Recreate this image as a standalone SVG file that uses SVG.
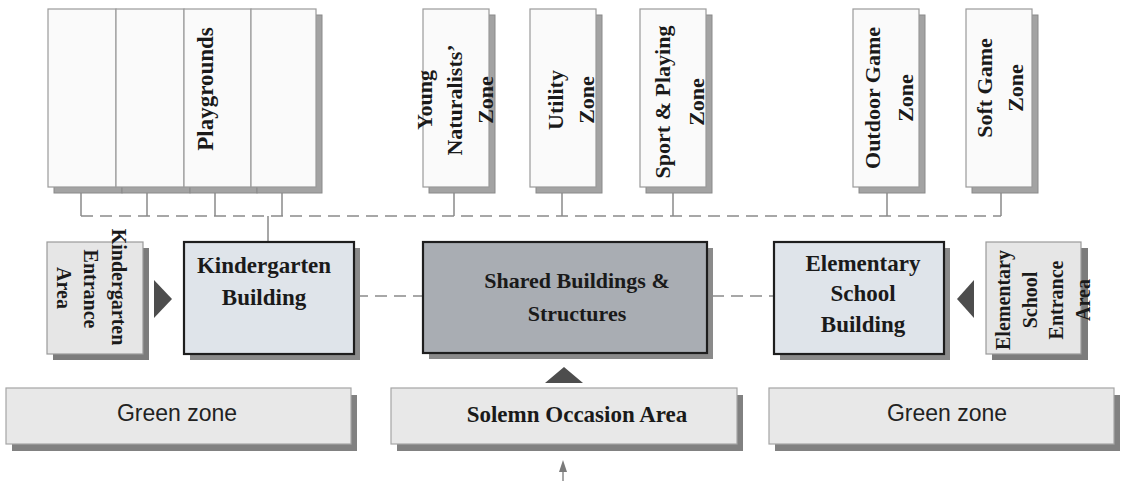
<svg xmlns="http://www.w3.org/2000/svg" width="1121" height="481" viewBox="0 0 1121 481">
<style>
.bg{fill:#ffffff}
.zone{fill:#fafafa;stroke:#9a9a9a;stroke-width:1.2}
.zsh{fill:#a3a3a3;stroke:#8a8a8a;stroke-width:1}
.ent{fill:#e6e6e6;stroke:#9a9a9a;stroke-width:1.2}
.esh{fill:#7c7c7c}
.bld{fill:#dfe4ea;stroke:#1e1e1e;stroke-width:2.2}
.shared{fill:#a9adb3;stroke:#1e1e1e;stroke-width:2.2}
.bsh{fill:#8a8a8a}
.low{fill:#e8e8e8;stroke:#a5a5a5;stroke-width:1.2}
.lsh{fill:#818181}
.tri{fill:#4d4d4d}
.ser{font-family:"Liberation Serif","Times New Roman",serif;font-weight:bold;fill:#1a1a1a}
.sans{font-family:"Liberation Sans",Arial,sans-serif;fill:#222;font-size:23px}
.f22{font-size:22px}
.f23{font-size:23px}
.f20{font-size:20px}
.conn line,.conn path{stroke:#8a8a8a;stroke-width:1.5;fill:none}
.dash{stroke-dasharray:12 7}
</style>
<rect class="bg" x="0" y="0" width="1121" height="481"/>

<g id="connectors" class="conn">
  <line class="dash" x1="81" y1="216" x2="1001" y2="216"/>
  <line x1="81" y1="193" x2="81" y2="216"/>
  <line x1="147" y1="193" x2="147" y2="216"/>
  <line x1="215" y1="193" x2="215" y2="216"/>
  <line x1="282" y1="193" x2="282" y2="216"/>
  <line x1="454" y1="193" x2="454" y2="216"/>
  <line x1="562" y1="193" x2="562" y2="216"/>
  <line x1="673" y1="193" x2="673" y2="216"/>
  <line x1="887" y1="193" x2="887" y2="216"/>
  <line x1="1001" y1="193" x2="1001" y2="216"/>
  <line x1="268" y1="216" x2="268" y2="242"/>
  <line class="dash" x1="356" y1="296" x2="423" y2="296"/>
  <line class="dash" x1="712" y1="296" x2="774" y2="296"/>
  <line x1="563" y1="470" x2="563" y2="481"/>
  <polygon points="559,472 563,460 567,472" fill="#7a7a7a" stroke="none"/>
  <polygon class="tri" points="154,280 172,299 154,318"/>
  <polygon class="tri" points="974,280 957,299 974,318"/>
  <polygon class="tri" points="545,383 564,367 583,383"/>
</g>

<g id="playgrounds">
  <rect class="zsh" x="54" y="15" width="68" height="178"/>
  <rect class="zsh" x="122" y="15" width="68" height="178"/>
  <rect class="zsh" x="190" y="15" width="67" height="178"/>
  <rect class="zsh" x="257" y="15" width="65" height="178"/>
  <rect class="zone" x="48" y="9" width="68" height="178"/>
  <rect class="zone" x="116" y="9" width="68" height="178"/>
  <rect class="zone" x="184" y="9" width="67" height="178"/>
  <rect class="zone" x="251" y="9" width="65" height="178"/>
  <text class="ser f23" text-anchor="middle" transform="translate(213,89) rotate(-90)">Playgrounds</text>
</g>

<g id="young-naturalists-zone">
  <rect class="zsh" x="429" y="15" width="66" height="178"/>
  <rect class="zone" x="423" y="9" width="66" height="178"/>
  <text class="ser f22" text-anchor="middle" transform="translate(432,100) rotate(-90)">Young</text>
  <text class="ser f22" text-anchor="middle" transform="translate(462,100) rotate(-90)">Naturalists’</text>
  <text class="ser f22" text-anchor="middle" transform="translate(493,100) rotate(-90)">Zone</text>
</g>

<g id="utility-zone">
  <rect class="zsh" x="536" y="15" width="66" height="178"/>
  <rect class="zone" x="530" y="9" width="66" height="178"/>
  <text class="ser f22" text-anchor="middle" transform="translate(563,100) rotate(-90)">Utility</text>
  <text class="ser f22" text-anchor="middle" transform="translate(594,100) rotate(-90)">Zone</text>
</g>

<g id="sport-playing-zone">
  <rect class="zsh" x="646" y="15" width="66" height="178"/>
  <rect class="zone" x="640" y="9" width="66" height="178"/>
  <text class="ser f22" text-anchor="middle" transform="translate(670,102) rotate(-90)">Sport &amp; Playing</text>
  <text class="ser f22" text-anchor="middle" transform="translate(704,102) rotate(-90)">Zone</text>
</g>

<g id="outdoor-game-zone">
  <rect class="zsh" x="859" y="15" width="66" height="178"/>
  <rect class="zone" x="853" y="9" width="66" height="178"/>
  <text class="ser f22" text-anchor="middle" transform="translate(880,98) rotate(-90)">Outdoor Game</text>
  <text class="ser f22" text-anchor="middle" transform="translate(913,98) rotate(-90)">Zone</text>
</g>

<g id="soft-game-zone">
  <rect class="zsh" x="972" y="15" width="66" height="178"/>
  <rect class="zone" x="966" y="9" width="66" height="178"/>
  <text class="ser f22" text-anchor="middle" transform="translate(992,88) rotate(-90)">Soft Game</text>
  <text class="ser f22" text-anchor="middle" transform="translate(1023,88) rotate(-90)">Zone</text>
</g>

<g id="kindergarten-entrance-area">
  <rect class="esh" x="53" y="248" width="96" height="112"/>
  <rect class="ent" x="47" y="242" width="96" height="112"/>
  <text class="ser f20" text-anchor="middle" transform="translate(112,287) rotate(90)">Kindergarten</text>
  <text class="ser f20" text-anchor="middle" transform="translate(84,289) rotate(90)">Entrance</text>
  <text class="ser f20" text-anchor="middle" transform="translate(57,288) rotate(90)">Area</text>
</g>

<g id="kindergarten-building">
  <rect class="bsh" x="190" y="248" width="170" height="112"/>
  <rect class="bld" x="184" y="242" width="170" height="112"/>
  <text class="ser f23" text-anchor="middle" x="264" y="273">Kindergarten</text>
  <text class="ser f23" text-anchor="middle" x="264" y="305">Building</text>
</g>

<g id="shared-buildings">
  <rect class="bsh" x="429" y="248" width="284" height="111"/>
  <rect class="shared" x="423" y="242" width="284" height="111"/>
  <text class="ser f22" text-anchor="middle" x="577" y="288">Shared Buildings &amp;</text>
  <text class="ser f22" text-anchor="middle" x="577" y="321">Structures</text>
</g>

<g id="elementary-school-building">
  <rect class="bsh" x="780" y="248" width="170" height="112"/>
  <rect class="bld" x="774" y="242" width="170" height="112"/>
  <text class="ser f23" text-anchor="middle" x="863" y="271">Elementary</text>
  <text class="ser f23" text-anchor="middle" x="863" y="301">School</text>
  <text class="ser f23" text-anchor="middle" x="863" y="332">Building</text>
</g>

<g id="elementary-school-entrance-area">
  <rect class="esh" x="992" y="248" width="96" height="112"/>
  <rect class="ent" x="986" y="242" width="95" height="112"/>
  <text class="ser f20" text-anchor="middle" transform="translate(1010,300) rotate(-90)">Elementary</text>
  <text class="ser f20" text-anchor="middle" transform="translate(1037,300) rotate(-90)">School</text>
  <text class="ser f20" text-anchor="middle" transform="translate(1063,300) rotate(-90)">Entrance</text>
  <text class="ser f20" text-anchor="middle" transform="translate(1090,300) rotate(-90)">Area</text>
</g>

<g id="green-zone-left">
  <rect class="lsh" x="12" y="395" width="345" height="56"/>
  <rect class="low" x="6" y="388" width="345" height="56"/>
  <text class="sans" text-anchor="middle" x="177" y="421">Green zone</text>
</g>

<g id="solemn-occasion-area">
  <rect class="lsh" x="397" y="395" width="346" height="56"/>
  <rect class="low" x="391" y="388" width="346" height="56"/>
  <text class="ser f23" text-anchor="middle" x="577" y="422">Solemn Occasion Area</text>
</g>

<g id="green-zone-right">
  <rect class="lsh" x="775" y="395" width="345" height="56"/>
  <rect class="low" x="769" y="388" width="345" height="56"/>
  <text class="sans" text-anchor="middle" x="947" y="421">Green zone</text>
</g>
</svg>
